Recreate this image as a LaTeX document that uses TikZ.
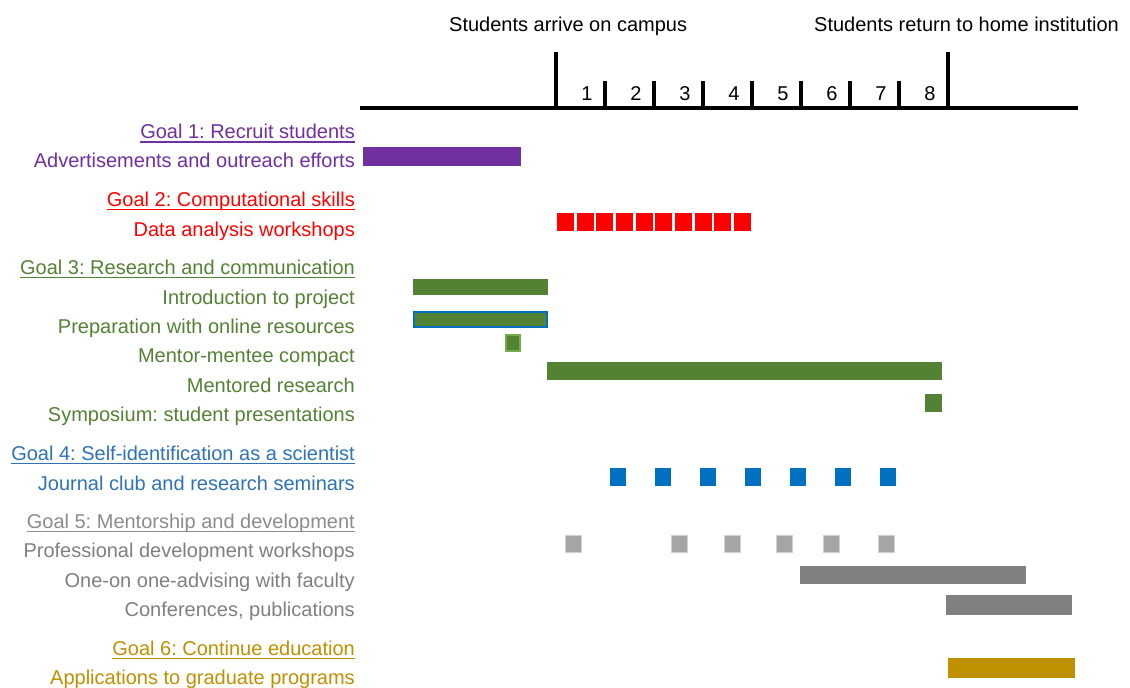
\documentclass[tikz,border=0pt]{standalone}
\usepackage{fontspec}
\setmainfont{Liberation Sans}
\frenchspacing
\definecolor{cpurple}{HTML}{7030A0}
\definecolor{cred}{HTML}{FF0000}
\definecolor{cgreen}{HTML}{548235}
\definecolor{clgreen}{HTML}{70AD47}
\definecolor{cblue}{HTML}{0070C0}
\definecolor{cbluetxt}{HTML}{2E72B8}
\definecolor{cgreytxt}{HTML}{808080}
\definecolor{cgreygoal}{HTML}{8C8C8C}
\definecolor{cgreysq}{HTML}{A5A5A5}
\definecolor{cgreybar}{HTML}{808080}
\definecolor{cgold}{HTML}{BF9000}
\begin{document}
\begin{tikzpicture}[x=1pt,y=-1pt,
  lbl/.style={anchor=base east,inner sep=0pt,font=\fontsize{20}{23}\selectfont\frenchspacing},
  toplbl/.style={anchor=base west,inner sep=0pt,font=\fontsize{20}{23}\selectfont\frenchspacing},
  num/.style={anchor=base,inner sep=0pt,font=\fontsize{20}{23}\selectfont},
  axisline/.style={line width=4.5pt,line cap=butt}]
\clip (0,0) rectangle (1130,688);
\fill[white] (0,0) rectangle (1130,688);
\newcommand{\goalrow}[4]{%
  \node[lbl,text=#3] (#1) at (355,#2) {#4};
  \draw[#3,line width=1.4pt] ([yshift=-3.5pt]#1.base west) -- ([yshift=-3.5pt]#1.base east);}
% top labels
\node[toplbl] (arrive) at (449,31) {Students arrive on campus};
\node[toplbl] (return) at (814,31) {Students return to home institution};
% axis
\draw[axisline] (360,108) -- (1078,108);
\draw[axisline] (556,52) -- (556,108);
\draw[axisline] (948,52) -- (948,108);
\foreach \i in {1,...,7} {\draw[axisline] ({556+49*\i},81) -- ({556+49*\i},108);}
\foreach \i in {1,...,8} {\node[num] (w\i) at ({556+49*\i-18},100) {\i};}
% labels
\goalrow{g1}{138.5}{cpurple}{Goal 1: Recruit students}
\node[lbl,text=cpurple] (adv) at (355,167) {Advertisements and outreach efforts};
\goalrow{g2}{206}{cred}{Goal 2: Computational skills}
\node[lbl,text=cred] (data) at (355,236) {Data analysis workshops};
\goalrow{g3}{274}{cgreen}{Goal 3: Research and communication}
\node[lbl,text=cgreen] (intro) at (355,304) {Introduction to project};
\node[lbl,text=cgreen] (prep) at (355,333) {Preparation with online resources};
\node[lbl,text=cgreen] (compact) at (355,362) {Mentor-mentee compact};
\node[lbl,text=cgreen] (mres) at (355,392) {Mentored research};
\node[lbl,text=cgreen] (symp) at (355,421) {Symposium: student presentations};
\goalrow{g4}{460}{cbluetxt}{Goal 4: Self-identification as a scientist}
\node[lbl,text=cbluetxt] (journal) at (355,490) {Journal club and research seminars};
\goalrow{g5}{528}{cgreygoal}{Goal 5: Mentorship and development}
\node[lbl,text=cgreytxt] (prof) at (355,557) {Professional development workshops};
\node[lbl,text=cgreytxt] (advise) at (355,587) {One-on one-advising with faculty};
\node[lbl,text=cgreytxt] (conf) at (355,616) {Conferences, publications};
\goalrow{g6}{655}{cgold}{Goal 6: Continue education}
\node[lbl,text=cgold] (appl) at (355,684) {Applications to graduate programs};
% bars
\fill[cpurple] (363,147) rectangle (521,166);
\foreach \i in {0,...,9} {\fill[cred] ({557+19.67*\i},213) rectangle ({574+19.67*\i},231);}
\fill[cgreen] (413,279) rectangle (548,295);
\filldraw[fill=cgreen,draw=cblue,line width=2pt] (414,312) rectangle (547,327);
\filldraw[fill=cgreen,draw=clgreen,line width=1.2pt] (506,335) rectangle (520,351);
\fill[cgreen] (547,362) rectangle (942,380);
\fill[cgreen] (925,394) rectangle (942,412);
\foreach \i in {0,...,6} {\fill[cblue] ({610+45*\i},468) rectangle ({626+45*\i},486);}
\foreach \x in {565,671,724,776,823,878} {\filldraw[fill=cgreysq,draw=cgreysq!50,line width=1pt] (\x,535) rectangle (\x+16,552);}
\fill[cgreybar] (800,566) rectangle (1026,584);
\fill[cgreybar] (946,595) rectangle (1072,615);
\fill[cgold] (948,658) rectangle (1075,678);
\end{tikzpicture}
\end{document}
